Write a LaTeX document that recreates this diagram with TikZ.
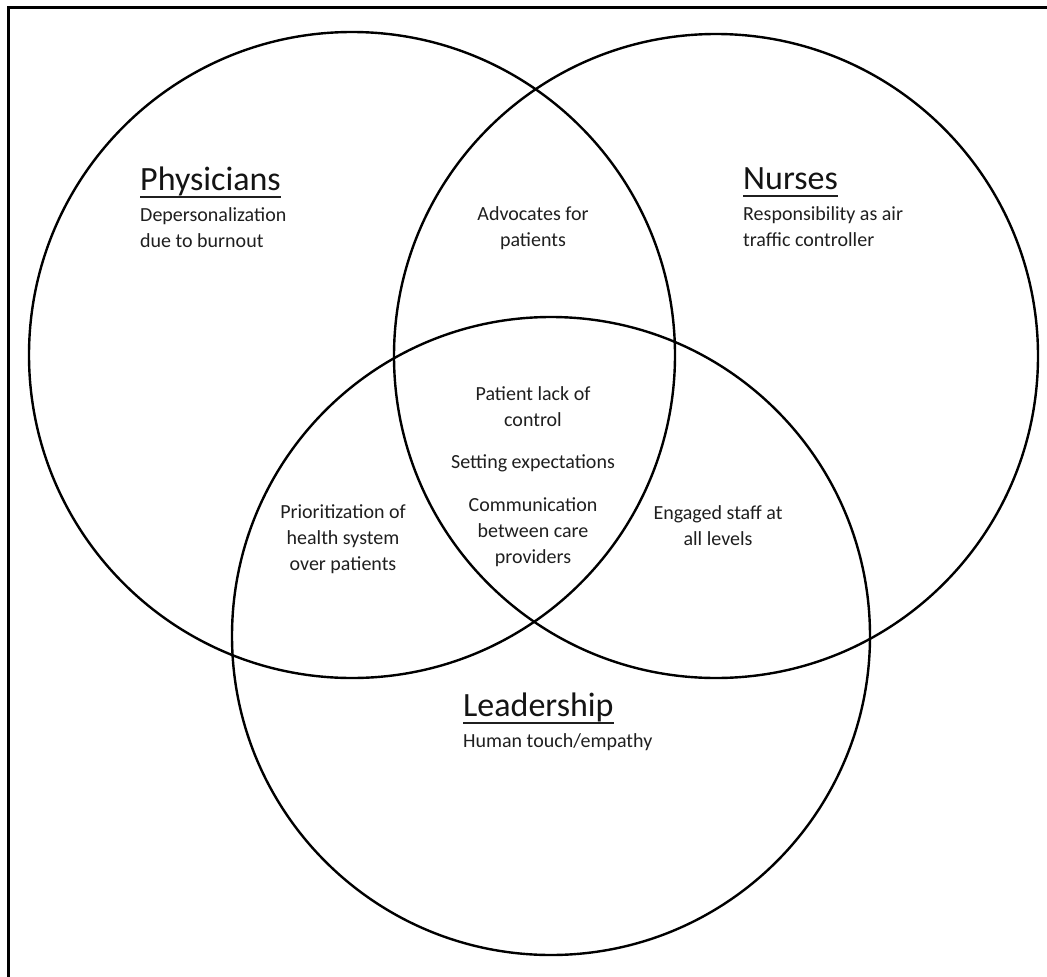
\documentclass[tikz,border=0pt]{standalone}
\usepackage{fontspec}
\setmainfont{Carlito}
\begin{document}
\begin{tikzpicture}[x=1pt,y=-1pt,
  ring/.style={draw=black,line width=2.4pt},
  body/.style={text=black!88,font=\fontsize{20}{26}\selectfont,align=center,inner sep=0pt},
  bodyl/.style={body,align=left,anchor=north west},
  head/.style={text=black!92,font=\fontsize{34}{36}\selectfont,inner sep=0pt,anchor=base west},
  uline/.style={line width=2.8pt,draw=black!88}]
\useasboundingbox (0,0) rectangle (1047,977);
\fill[white] (0,0) rectangle (1047,977);
\draw[line width=3pt] (8,977) -- (8,7) -- (1047,7);
\draw[ring] (352,355) circle (323);
\draw[ring] (716,356) circle (322);
\draw[ring] (551,636) circle (319);
% headings
\node[head] (ph) at (140,190) {Physicians};
\draw[uline] ([yshift=-7pt]ph.base west) -- ([yshift=-7pt]ph.base east);
\node[bodyl] (pht) at (140,207) {Depersonalization\\due to burnout};
\node[head] (nu) at (743,189) {Nurses};
\draw[uline] ([yshift=-7pt]nu.base west) -- ([yshift=-7pt]nu.base east);
\node[bodyl] (nut) at (743,206) {Responsibility as air\\traffic controller};
\node[head] (le) at (463,716) {Leadership};
\draw[uline] ([yshift=-7pt]le.base west) -- ([yshift=-7pt]le.base east);
\node[bodyl] (let) at (463,733) {Human touch/empathy};
% overlaps
\node[body] (adv) at (533,228) {Advocates for\\patients};
\node[body] (pat) at (533,407) {Patient lack of\\control};
\node[body] (set) at (533,463) {Setting expectations};
\node[body] (com) at (533,532) {Communication\\between care\\providers};
\node[body] (pri) at (343,539) {Prioritization of\\health system\\over patients};
\node[body] (eng) at (718,526) {Engaged staff at\\all levels};
\end{tikzpicture}
\end{document}
